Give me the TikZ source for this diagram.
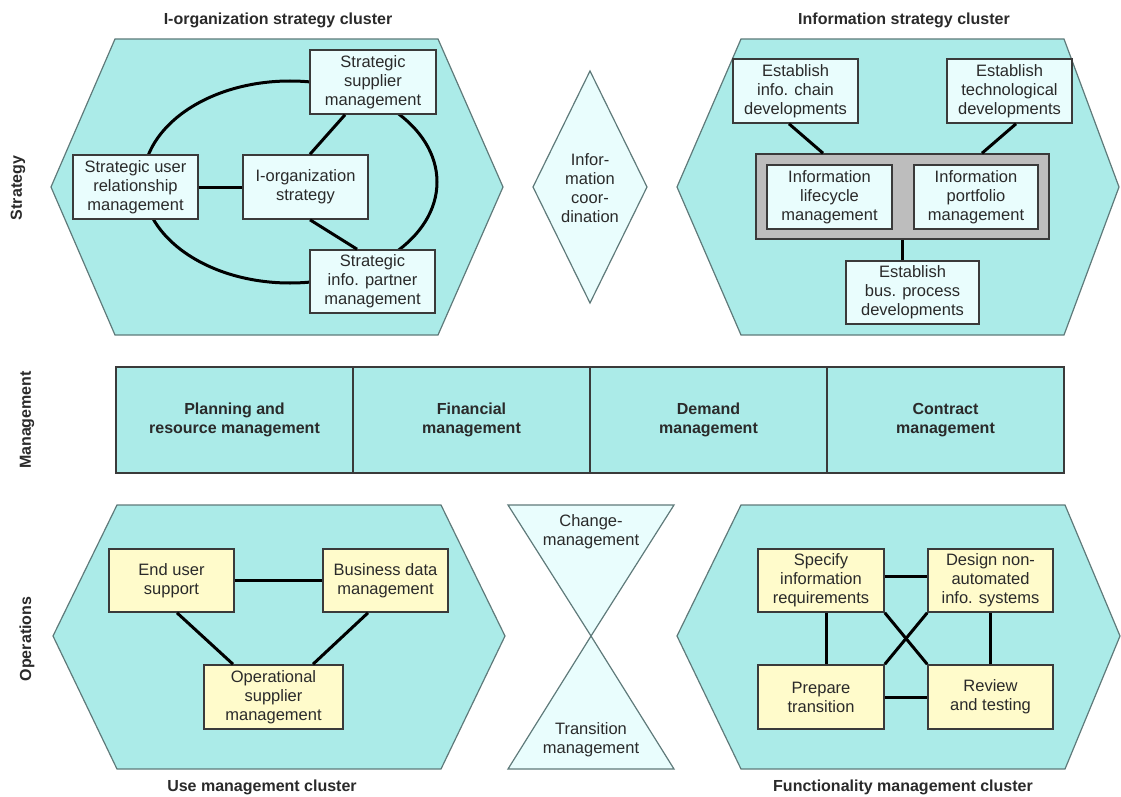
\documentclass[tikz,border=0pt]{standalone}
\usepackage{fontspec}
\setmainfont{Liberation Sans}
\definecolor{hexfill}{HTML}{ABEBE8}
\definecolor{hexline}{HTML}{5F7A7A}
\definecolor{lightbox}{HTML}{E9FDFD}
\definecolor{yfill}{HTML}{FFFBCB}
\definecolor{boxline}{HTML}{3A3A3A}
\definecolor{grayfill}{HTML}{BDBDBD}
\definecolor{txt}{HTML}{2A2A2A}
\newcommand\bxfont{\fontsize{16.5}{19}\selectfont}
\newcommand\ttlfont{\fontsize{16}{19}\selectfont\bfseries}
\begin{document}
\begin{tikzpicture}[x=1pt,y=-1pt,
  hexa/.style={fill=hexfill, draw=hexline, line width=1.2pt, line join=miter},
  bbox/.style={draw=boxline, line width=1.6pt, fill=lightbox, inner sep=0pt, align=center, font=\bxfont, text=txt},
  ylbox/.style={bbox, fill=yfill},
  conn/.style={line width=3pt, black},
  ttl/.style={font=\ttlfont, text=txt, inner sep=0pt},
  band/.style={draw=boxline, line width=1.2pt, fill=hexfill, minimum width=237, minimum height=106, inner sep=0pt, align=center, font=\ttlfont, text=txt},
  lite/.style={fill=lightbox, draw=hexline, line width=1.2pt},
  plain/.style={font=\bxfont, text=txt, align=center, inner sep=0pt}
]
\useasboundingbox (0,0) rectangle (1121,797);

% titles and side labels
\node[ttl] (t1) at (278,20) {I-organization strategy cluster};
\node[ttl] (t2) at (904,20) {Information strategy cluster};
\node[ttl] (t3) at (262,787) {Use management cluster};
\node[ttl] (t4) at (903,787) {Functionality management cluster};
\node[ttl, rotate=90] (s1) at (18,188) {Strategy};
\node[ttl, rotate=90] (s2) at (27,420) {Management};
\node[ttl, rotate=90] (s3) at (27,639) {Operations};

% hexagons
\draw[hexa] (51,187) -- (115,39) -- (438,39) -- (503,187) -- (438,335) -- (115,335) -- cycle;
\draw[hexa] (677,187) -- (741,39) -- (1064,39) -- (1119,187) -- (1064,335) -- (741,335) -- cycle;
\draw[hexa] (53,636) -- (117,505) -- (441,505) -- (505,636) -- (441,769) -- (117,769) -- cycle;
\draw[hexa] (677,636) -- (741,505) -- (1065,505) -- (1120,636) -- (1065,769) -- (741,769) -- cycle;

% diamond and hourglass
\draw[lite] (590,71) -- (647,187) -- (590,303) -- (533,187) -- cycle;
\node[plain] (coord) at (590,188) {Infor-\\mation\\coor-\\dination};
\draw[lite] (508,505) -- (674,505) -- (591,636) -- cycle;
\draw[lite] (591,636) -- (674,769) -- (508,769) -- cycle;
\node[plain] (chg) at (591,532) {Change-\\management};
\node[plain] (trn) at (591,740) {Transition\\management};

% I-organization strategy cluster
\draw[conn] (290,182) ellipse [x radius=147, y radius=101];
\node[bbox, minimum width=126, minimum height=64] (sup) at (373,82) {Strategic\\supplier\\management};
\node[bbox, minimum width=125, minimum height=64] (usr) at (135.5,187) {Strategic user\\relationship\\management};
\node[bbox, minimum width=125, minimum height=64] (iorg) at (305.5,187) {I-organization\\strategy};
\node[bbox, minimum width=125, minimum height=63] (par) at (372.5,281.5) {Strategic\\info. partner\\management};
\draw[conn] (usr) -- (iorg);
\draw[conn] ([xshift=-28pt]sup.south) -- ([xshift=4.5pt]iorg.north);
\draw[conn] ([xshift=4.5pt]iorg.south) -- ([xshift=-15.5pt]par.north);

% Information strategy cluster
\node[bbox, minimum width=125, minimum height=64] (chain) at (795.5,91) {Establish\\info. chain\\developments};
\node[bbox, minimum width=125, minimum height=64] (tech) at (1009.5,91) {Establish\\technological\\developments};
\node[draw=boxline, line width=1.6pt, fill=grayfill, minimum width=293, minimum height=85, inner sep=0pt] (cont) at (902.5,196.5) {};
\node[bbox, minimum width=125, minimum height=64] (life) at (829.5,197) {Information\\lifecycle\\management};
\node[bbox, minimum width=124, minimum height=64] (port) at (976,197) {Information\\portfolio\\management};
\node[bbox, minimum width=133, minimum height=63] (bus) at (912.5,292.5) {Establish\\bus. process\\developments};
\draw[conn] ([xshift=-6.5pt]chain.south) -- ([xshift=-79.5pt]cont.north);
\draw[conn] ([xshift=6.5pt]tech.south) -- ([xshift=79.5pt]cont.north);
\draw[conn] (cont.south) -- (cont.south |- bus.north);

% management band
\node[band] (plan) at (234.5,420) {Planning and\\resource management};
\node[band] (fin) at (471.5,420) {Financial\\management};
\node[band] (dem) at (708.5,420) {Demand\\management};
\node[band] (con) at (945.5,420) {Contract\\management};

% Use management cluster
\node[ylbox, minimum width=125, minimum height=63] (eus) at (171.5,580.5) {End user\\support};
\node[ylbox, minimum width=125, minimum height=63] (biz) at (385.5,580.5) {Business data\\management};
\node[ylbox, minimum width=139, minimum height=64] (ops) at (273.5,697) {Operational\\supplier\\management};
\draw[conn] (eus) -- (biz);
\draw[conn] ([xshift=5.5pt]eus.south) -- ([xshift=-40.5pt]ops.north);
\draw[conn] ([xshift=-17.5pt]biz.south) -- ([xshift=39.5pt]ops.north);

% Functionality management cluster
\node[ylbox, minimum width=126, minimum height=63] (spec) at (821,580.5) {Specify\\information\\requirements};
\node[ylbox, minimum width=125, minimum height=63] (des) at (990.5,580.5) {Design non-\\automated\\info. systems};
\node[ylbox, minimum width=126, minimum height=64] (prep) at (821,697) {Prepare\\transition};
\node[ylbox, minimum width=125, minimum height=64] (rev) at (990.5,697) {Review\\and testing};
\draw[conn] ([yshift=4.5pt]spec.east) -- ([yshift=4.5pt]des.west);
\draw[conn] (prep.east) -- (rev.west);
\draw[conn] ([xshift=5pt]spec.south) -- ([xshift=5pt]prep.north);
\draw[conn] (des.south) -- (rev.north);
\draw[conn] (spec.south east) -- (rev.north west);
\draw[conn] (des.south west) -- (prep.north east);
\end{tikzpicture}
\end{document}
